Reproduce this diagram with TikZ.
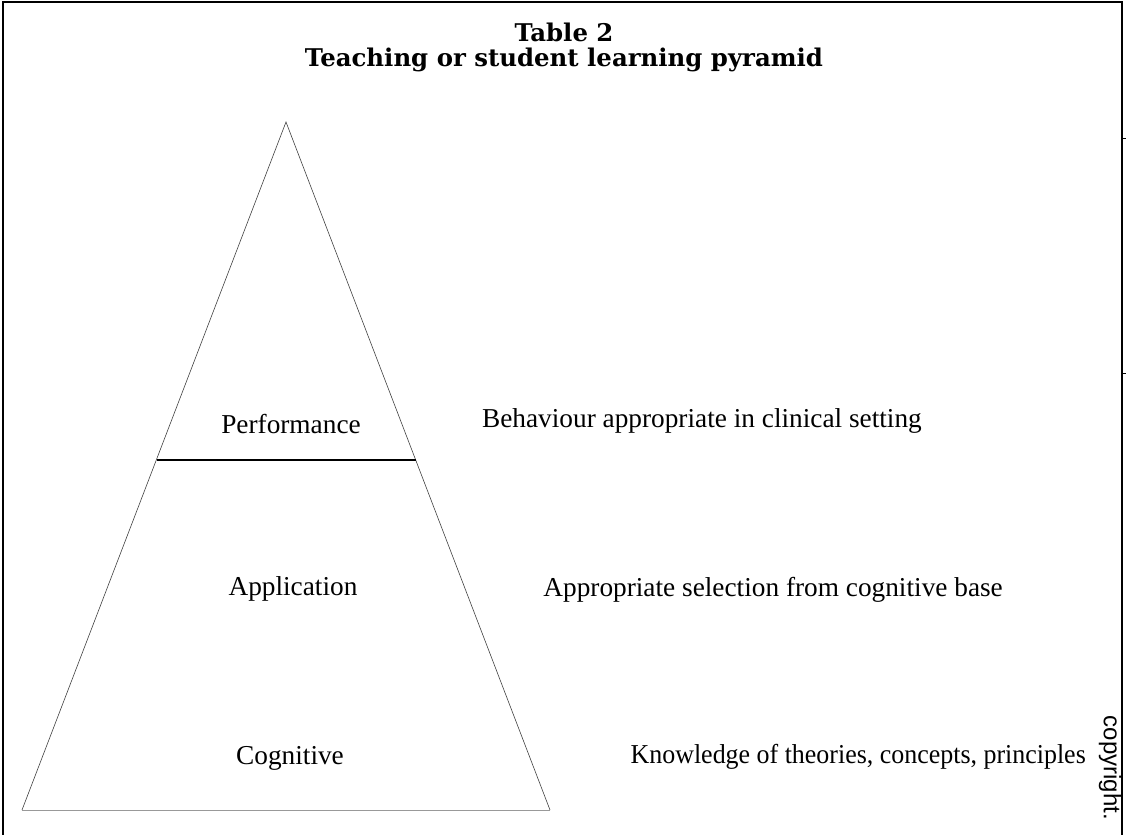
\documentclass[tikz,border=0pt]{standalone}
\usepackage{fontspec}
\setmainfont{Liberation Serif}
\newfontfamily\titlefont{DejaVu Serif}
\newfontfamily\copyfont{Liberation Sans}
\begin{document}
\begin{tikzpicture}[x=1pt,y=-1pt,
  title/.style={font=\titlefont\bfseries\fontsize{24.4}{28}\selectfont, inner sep=0pt},
  lbl/.style={font=\fontsize{27.3}{32}\selectfont, inner sep=0pt},
  desc/.style={font=\fontsize{27.3}{32}\selectfont, anchor=east, inner sep=0pt},
  side/.style={line width=0.6pt, black!75},
  divider/.style={line width=1.1pt, black},
  baseline/.style={line width=0.8pt, black!40},
  frame/.style={line width=1.6pt, black}]
\useasboundingbox (0,0) rectangle (1127,835);
% frame
\coordinate (f1) at (3,835);
\coordinate (f2) at (3,2);
\coordinate (f3) at (1122,2);
\coordinate (f4) at (1122,835);
\draw[frame] (f1) -- (f2) -- (f3) -- (f4);
\coordinate (t1a) at (1122,138); \coordinate (t1b) at (1126,138);
\coordinate (t2a) at (1122,373); \coordinate (t2b) at (1126,373);
\draw[line width=1pt] (t1a) -- (t1b);
\draw[line width=1pt] (t2a) -- (t2b);
% title
\node[title] (t1) at (564,32) {Table 2};
\node[title] (t2) at (564,60) {Teaching or student learning pyramid};
% pyramid
\coordinate (apex) at (286,122);
\coordinate (bl) at (22,810);
\coordinate (br) at (550,810);
\coordinate (dl) at (157,460);
\coordinate (dr) at (416,460);
\draw[side] (bl) -- (apex) -- (br);
\draw[divider] (dl) -- (dr);
\draw[baseline] (bl) -- (br);
% level labels
\node[lbl] (perf) at (291,424) {Performance};
\node[lbl] (appl) at (293,589) {Application};
\node[lbl] (cogn) at (290,758) {Cognitive};
% descriptions
\node[desc] (d1) at (922,421) {Behaviour appropriate in clinical setting};
\node[desc] (d2) at (1003,590) {Appropriate selection from cognitive base};
\node[desc] (d3) at (1086,757) {\scalebox{0.95}[1]{Knowledge of theories, concepts, principles}};
% copyright
\node[font=\copyfont\fontsize{24}{28}\selectfont, rotate=-90, inner sep=0pt] (cp) at (1110,768) {copyright.};
\end{tikzpicture}
\end{document}
